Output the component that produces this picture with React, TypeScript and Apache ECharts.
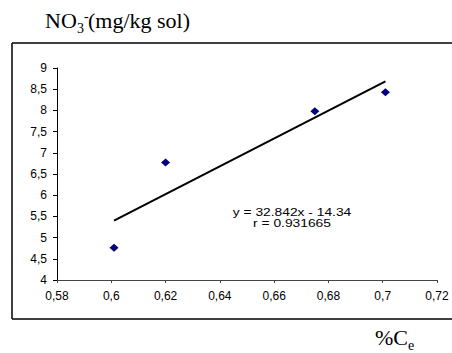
import React, { useEffect, useRef } from "react";
import * as echarts from "echarts";

const xValues = [0.601, 0.62, 0.675, 0.701];
const yValues = [4.76, 6.77, 7.98, 8.43];
const trendSlope = 32.842;
const trendIntercept = -14.34;
const trendRange = [0.601, 0.701];
const equationLabel = "y = 32.842x - 14.34";
const rLabel = "r = 0.931665";

const SANS = "'Liberation Sans', Arial, sans-serif";
const SERIF = "'Liberation Serif', 'Times New Roman', serif";

export default function App() {
  const ref = useRef<HTMLDivElement>(null);
  useEffect(() => {
    if (!ref.current) return;
    const chart = echarts.init(ref.current, null, { renderer: "svg" });
    const points = xValues.map((x, i) => [x, yValues[i]]);
    const trend = trendRange.map((x) => [x, trendSlope * x + trendIntercept]);
    chart.setOption({
      animation: false,
      backgroundColor: "#fff",
      grid: { left: 57, right: 15, top: 68, bottom: 73, containLabel: false, outerBoundsMode: "none" },
      xAxis: {
        type: "value",
        min: 0.58,
        max: 0.72,
        interval: 0.02,
        axisLine: { lineStyle: { color: "#444", width: 1 } },
        axisTick: { show: true, inside: false, length: 3, lineStyle: { color: "#444" } },
        splitLine: { show: false },
        axisLabel: {
          margin: 10,
          fontSize: 12,
          fontFamily: SANS,
          color: "#000",
          formatter: (v: number) => v.toFixed(2).replace(/0+$/, "").replace(/\.$/, "").replace(".", ","),
        },
      },
      yAxis: {
        type: "value",
        min: 4,
        max: 9,
        interval: 0.5,
        axisLine: { show: true, lineStyle: { color: "#000", width: 1 } },
        axisTick: { show: true, inside: false, length: 4, lineStyle: { color: "#000" } },
        splitLine: { show: false },
        axisLabel: {
          margin: 10,
          fontSize: 12,
          fontFamily: SANS,
          color: "#000",
          formatter: (v: number) => String(v).replace(".", ","),
        },
      },
      series: [
        {
          type: "line",
          data: trend,
          symbol: "none",
          lineStyle: { color: "#000", width: 2 },
          z: 2,
        },
        {
          type: "scatter",
          data: points,
          symbol: "diamond",
          symbolSize: [9, 8],
          itemStyle: { color: "#000080", opacity: 1 },
          z: 3,
        },
      ],
      graphic: [
        { type: "line", shape: { x1: 12, y1: 43, x2: 452, y2: 43 }, style: { stroke: "#000", lineWidth: 1.5 } },
        { type: "line", shape: { x1: 12, y1: 43, x2: 12, y2: 319 }, style: { stroke: "#000", lineWidth: 1.5 } },
        { type: "line", shape: { x1: 12, y1: 319, x2: 452, y2: 319 }, style: { stroke: "#000", lineWidth: 1.5 } },
        { type: "text", x: 45, y: 31, style: { text: "NO", font: `22px ${SERIF}`, fill: "#000", textVerticalAlign: "bottom" } },
        { type: "text", x: 77, y: 35, style: { text: "3", font: `14px ${SERIF}`, fill: "#000", textVerticalAlign: "bottom" } },
        { type: "text", x: 84, y: 23, style: { text: "-", font: `14px ${SERIF}`, fill: "#000", textVerticalAlign: "bottom" } },
        { type: "text", x: 88, y: 31, style: { text: "(mg/kg sol)", font: `22px ${SERIF}`, fill: "#000", textVerticalAlign: "bottom" } },
        { type: "text", x: 292, y: 213, scaleX: 1.38, style: { text: equationLabel, font: `10px ${SANS}`, fill: "#000", textAlign: "center", textVerticalAlign: "middle" } },
        { type: "text", x: 292, y: 224, scaleX: 1.38, style: { text: rLabel, font: `10px ${SANS}`, fill: "#000", textAlign: "center", textVerticalAlign: "middle" } },
        { type: "text", x: 375, y: 348, style: { text: "%C", font: `22px ${SERIF}`, fill: "#000", textVerticalAlign: "bottom" } },
        { type: "text", x: 408, y: 352, style: { text: "e", font: `14px ${SERIF}`, fill: "#000", textVerticalAlign: "bottom" } },
      ],
    });
    return () => chart.dispose();
  }, []);
  return (
    <div
      ref={ref}
      style={{ position: "absolute", left: 0, top: 0, width: 452, height: 353 }}
    />
  );
}
